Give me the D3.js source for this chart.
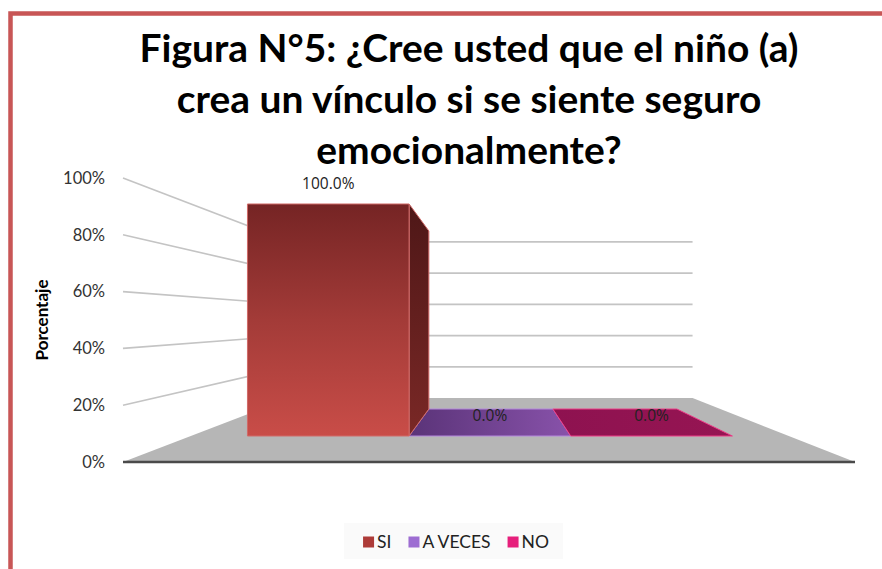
<!DOCTYPE html>
<html>
<head>
<meta charset="utf-8">
<script src="https://cdn.jsdelivr.net/npm/d3@7"></script>
<style>
  body { margin: 0; background: #fff; }
  svg { display: block; }
</style>
</head>
<body>
<div class="chart"></div>
<script>
var categories = ['SI', 'A VECES', 'NO'];
var values = [1.0, 0.0, 0.0];
var tickValues = [0, 0.2, 0.4, 0.6, 0.8, 1.0];
var titleLines = ['Figura N°5: ¿Cree usted que el niño (a)',
                  'crea un vínculo si se siente seguro',
                  'emocionalmente?'];

var width = 882, height = 569;

// vanishing point and depths for the fake 3d view
var vx = 494, vy = 320;
var zBack = 0.818, zBar0 = 0.224, zBar1 = 0.595;

var x = d3.scaleBand().domain(categories).range([123, 855]).paddingInner(0).paddingOuter(0.35);
var y = d3.scaleLinear().domain([0, 1]).range([462, 178]);

function proj(X, Y, z) {
  var k = 1 / (1 + z);
  return [vx + (X - vx) * k, vy + (Y - vy) * k];
}
function poly(pts) { return 'M' + pts.map(function(p) { return p[0] + ',' + p[1]; }).join('L') + 'Z'; }

var svg = d3.select('.chart').append('svg')
    .attr('width', width)
    .attr('height', height);

var defs = svg.append('defs');
function grad(id, x2, y2, stops) {
  var g = defs.append('linearGradient').attr('id', id)
      .attr('x1', 0).attr('y1', 0).attr('x2', x2).attr('y2', y2);
  stops.forEach(function(s, i) {
    g.append('stop').attr('offset', i / (stops.length - 1)).attr('stop-color', s);
  });
}
grad('siFront', 0, 1, ['#752424', '#a33b38', '#c94d48']);
grad('siSide', 0, 1, ['#4e1717', '#7a2826']);
grad('avTop', 1, 0, ['#5a3378', '#8852aa']);
grad('noTop', 1, 0, ['#8e1250', '#961553']);

var faceFill = {
  'SI': { front: 'url(#siFront)', side: 'url(#siSide)', top: '#a33b38', stroke: '#d06a68' },
  'A VECES': { front: '#7a4a9a', side: '#5a3378', top: 'url(#avTop)', stroke: '#b487dc' },
  'NO': { front: '#a0185a', side: '#7a1044', top: 'url(#noTop)', stroke: '#ee3c88' }
};
var legendColor = { 'SI': '#ad3b38', 'A VECES': '#9d6dd2', 'NO': '#e61f7b' };
var font = 'Lato, "Open Sans", sans-serif';

// frame
svg.append('path')
    .attr('d', 'M10.5,' + height + 'V13.5H' + width)
    .attr('fill', 'none')
    .attr('stroke', '#c85656')
    .attr('stroke-width', 4.5);

// title, sized so the first line spans like the original
var title = svg.append('g').attr('font-family', font)
    .attr('font-weight', 'bold').attr('fill', '#000').attr('text-anchor', 'middle');
var tl = title.selectAll('text').data(titleLines).enter().append('text')
    .attr('x', 469)
    .attr('y', function(d, i) { return 62 + i * 51; })
    .attr('font-size', 32)
    .text(function(d) { return d; });
var w0 = tl.node().getComputedTextLength();
tl.attr('font-size', 32 * 659 / w0);

// walls
var xl = x.range()[0], xr = x.range()[1];
var gridColor = '#c4c4c4';
svg.append('g').selectAll('line').data(tickValues.slice(1)).enter().append('line')
    .attr('x1', xl).attr('y1', function(d) { return y(d); })
    .attr('x2', proj(xl, 0, zBack)[0]).attr('y2', function(d) { return proj(xl, y(d), zBack)[1]; })
    .attr('stroke', gridColor).attr('stroke-width', 1.6);
svg.append('g').selectAll('line').data(tickValues.slice(1)).enter().append('line')
    .attr('x1', proj(xl, 0, zBack)[0]).attr('y1', function(d) { return proj(xl, y(d), zBack)[1]; })
    .attr('x2', proj(xr, 0, zBack)[0]).attr('y2', function(d) { return proj(xl, y(d), zBack)[1]; })
    .attr('stroke', gridColor).attr('stroke-width', 1.6);

// floor
svg.append('path')
    .attr('d', poly([proj(xl, y(0), 0), proj(xr, y(0), 0), proj(xr, y(0), zBack), proj(xl, y(0), zBack)]))
    .attr('fill', '#b6b6b6');
svg.append('line')
    .attr('x1', xl).attr('x2', xr).attr('y1', y(0)).attr('y2', y(0))
    .attr('stroke', '#4a4a4a').attr('stroke-width', 2.5);

// y tick labels
svg.append('g').selectAll('text').data(tickValues).enter().append('text')
    .attr('x', 105).attr('y', function(d) { return y(d); })
    .attr('dy', '0.35em')
    .attr('text-anchor', 'end')
    .attr('font-family', font).attr('font-size', 16.5).attr('fill', '#333')
    .text(d3.format('.0%'));

svg.append('text')
    .attr('transform', 'translate(48,320) rotate(-90)')
    .attr('text-anchor', 'middle')
    .attr('font-family', font).attr('font-weight', 'bold')
    .attr('font-size', 17).attr('fill', '#000')
    .text('Porcentaje');

// bars, drawn back to front (flat ones first)
var order = categories.map(function(c, i) { return i; }).sort(function(a, b) { return values[a] - values[b]; });
var bars = svg.append('g');
order.forEach(function(i) {
  var c = categories[i], f = faceFill[c];
  var x0 = x(c), x1 = x(c) + x.bandwidth();
  var yt = y(values[i]), yb = y(0);
  var g = bars.append('g').attr('stroke', f.stroke).attr('stroke-width', 1).attr('stroke-linejoin', 'round');
  if (yt > vy) {
    g.append('path').attr('fill', f.top)
      .attr('d', poly([proj(x0, yt, zBar0), proj(x1, yt, zBar0), proj(x1, yt, zBar1), proj(x0, yt, zBar1)]));
  }
  if (values[i] > 0) {
    if (x1 < vx) {
      g.append('path').attr('fill', f.side)
        .attr('d', poly([proj(x1, yt, zBar0), proj(x1, yt, zBar1), proj(x1, yb, zBar1), proj(x1, yb, zBar0)]));
    }
    g.append('path').attr('fill', f.front)
      .attr('d', poly([proj(x0, yt, zBar0), proj(x1, yt, zBar0), proj(x1, yb, zBar0), proj(x0, yb, zBar0)]));
  }
});

// data labels
svg.append('g').selectAll('text').data(categories).enter().append('text')
    .attr('x', function(d) { return proj(x(d) + x.bandwidth() / 2, 0, zBar0)[0]; })
    .attr('y', function(d, i) { return proj(0, y(values[i]), zBar0)[1] - 20; })
    .attr('dy', '0.35em')
    .attr('text-anchor', 'middle')
    .attr('font-family', '"Open Sans", sans-serif').attr('font-size', 15.5).attr('fill', '#222')
    .text(function(d, i) { return d3.format('.1%')(values[i]); });

// legend, laid out from the text widths and centred
var legend = svg.append('g').attr('font-family', font).attr('font-size', 17.5).attr('fill', '#222');
legend.append('rect').attr('x', 344).attr('y', 523).attr('width', 219).attr('height', 36).attr('fill', '#fafafa');
var items = legend.selectAll('g.item').data(categories).enter().append('g').attr('class', 'item');
items.append('rect').attr('x', 0).attr('y', -5.5).attr('width', 11).attr('height', 11)
    .attr('fill', function(d) { return legendColor[d]; });
items.append('text').attr('x', 14).attr('dy', '0.35em').text(function(d) { return d; });
var widths = [];
items.select('text').each(function() { widths.push(14 + this.getComputedTextLength()); });
var gap = 17;
var total = d3.sum(widths) + gap * (widths.length - 1);
var pos = 456 - total / 2;
items.attr('transform', function(d, i) {
  var p = pos;
  pos += widths[i] + gap;
  return 'translate(' + p + ',542)';
});
</script>
</body>
</html>
